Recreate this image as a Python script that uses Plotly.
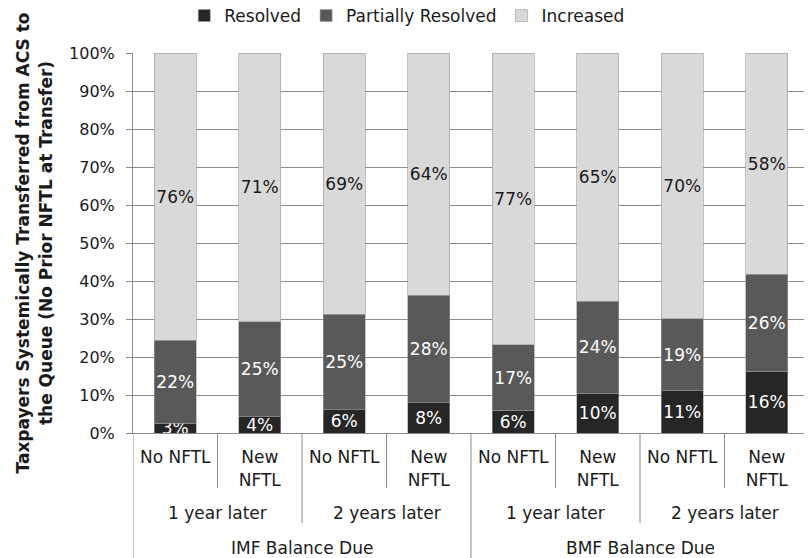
import plotly.graph_objects as go

# Category levels (inner to outer)
nftl_labels = ["No NFTL", "New NFTL", "No NFTL", "New NFTL",
               "No NFTL", "New NFTL", "No NFTL", "New NFTL"]
period_labels = ["1 year later", "2 years later", "1 year later", "2 years later"]
balance_labels = ["IMF Balance Due", "BMF Balance Due"]

# Share of taxpayers (%) per outcome
resolved = [2.6, 4.3, 6.1, 7.9, 6.0, 10.4, 11.1, 16.2]
partially_resolved = [21.8, 25.0, 25.1, 28.4, 17.2, 24.3, 19.0, 25.6]
increased = [75.6, 70.7, 68.8, 63.7, 76.8, 65.3, 69.9, 58.2]

FONT = "DejaVu Sans"
GRID = "#8c8c8c"
TXT = "#1a1a1a"
x_pos = list(range(len(nftl_labels)))

fig = go.Figure()

series = [
    ("Resolved", resolved, "#262626", "white"),
    ("Partially Resolved", partially_resolved, "#595959", "white"),
    ("Increased", increased, "#d9d9d9", TXT),
]
for name, vals, color, txt_color in series:
    fig.add_bar(
        x=x_pos,
        y=vals,
        name=name,
        marker=dict(color=color, line=dict(width=0.6, color="#9a9a9a")),
        texttemplate="%{y:.0f}%",
        textposition="inside",
        insidetextanchor="middle",
        textangle=0,
        constraintext="none",
        textfont=dict(family=FONT, size=17, color=txt_color),
        cliponaxis=True,
        hoverinfo="skip",
    )

# page body adds an 8px offset, margins are set to compensate
top_px = 45
bottom_px = 133
plot_h = 558 - top_px - bottom_px


def paper_y(px_below_axis):
    return -px_below_axis / plot_h


# Multi-level category axis drawn with shapes and annotations
shapes = []
annotations = []
n_per_period = 2
n_per_balance = 4
for i in range(len(nftl_labels) + 1):
    xb = i - 0.5
    if i % n_per_balance == 0:
        if i == len(nftl_labels):
            continue
        depth = bottom_px
    elif i % n_per_period == 0:
        depth = 90
    else:
        depth = 55
    shapes.append(dict(type="line", xref="x", yref="paper", x0=xb, x1=xb,
                       y0=0, y1=paper_y(depth),
                       line=dict(color=GRID, width=1)))

for j, lab in enumerate(period_labels):
    cx = j * n_per_period + (n_per_period - 1) / 2
    annotations.append(dict(x=cx, y=paper_y(80), xref="x", yref="paper",
                            text=lab, showarrow=False, yanchor="middle",
                            font=dict(family=FONT, size=17, color=TXT)))
for k, lab in enumerate(balance_labels):
    cx = k * n_per_balance + (n_per_balance - 1) / 2
    annotations.append(dict(x=cx, y=paper_y(115), xref="x", yref="paper",
                            text=lab, showarrow=False, yanchor="middle",
                            font=dict(family=FONT, size=17, color=TXT)))

fig.update_layout(
    width=812,
    height=558,
    barmode="stack",
    bargap=0.5,
    plot_bgcolor="white",
    paper_bgcolor="white",
    margin=dict(l=125, r=11, t=top_px, b=bottom_px),
    font=dict(family=FONT, size=16, color=TXT),
    showlegend=True,
    legend=dict(
        orientation="h",
        x=0.405,
        xanchor="center",
        yref="container",
        y=1 - 8 / 558,
        yanchor="middle",
        font=dict(family=FONT, size=17, color=TXT),
        traceorder="normal",
        itemclick=False,
    ),
    shapes=shapes,
    annotations=annotations,
)

fig.update_xaxes(
    range=[-0.5, len(nftl_labels) - 0.5],
    tickmode="array",
    tickvals=x_pos,
    ticktext=[lab.replace(" NFTL", "<br>NFTL") if lab.startswith("New") else lab
              for lab in nftl_labels],
    ticks="",
    ticklabelstandoff=9,
    showgrid=False,
    showline=True,
    linecolor=GRID,
    linewidth=1,
    tickfont=dict(family=FONT, size=17, color=TXT),
    zeroline=False,
    automargin=False,
    fixedrange=True,
)

fig.update_yaxes(
    range=[0, 100],
    dtick=10,
    ticksuffix="%",
    showgrid=True,
    gridcolor=GRID,
    gridwidth=1,
    showline=True,
    linecolor=GRID,
    linewidth=1,
    ticks="outside",
    ticklen=6,
    tickcolor=GRID,
    ticklabelstandoff=8,
    tickfont=dict(family=FONT, size=16, color=TXT),
    zeroline=False,
    automargin=False,
    title=dict(
        text="Taxpayers Systemically Transferred from ACS to<br>"
             "the Queue (No Prior NFTL at Transfer)",
        font=dict(family=FONT, size=17, color=TXT, weight="bold"),
        standoff=12,
    ),
    fixedrange=True,
)

fig.write_html("out.html")
